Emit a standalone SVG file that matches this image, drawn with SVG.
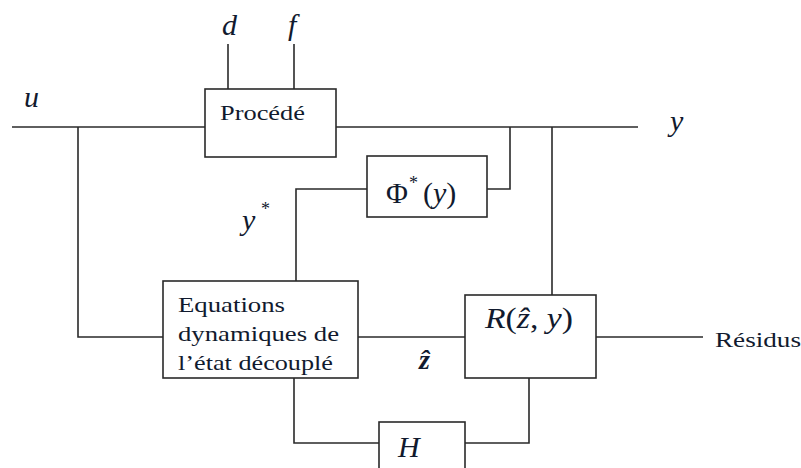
<svg xmlns="http://www.w3.org/2000/svg" width="801" height="468" viewBox="0 0 801 468">
<style>
.box{fill:#fff;stroke:#2a2a2a;stroke-width:1.6}
.ln{fill:none;stroke:#2a2a2a;stroke-width:1.6}
text{fill:#111a2e}
.m{font-style:italic}
</style>
<rect width="801" height="468" fill="#fff"/>
<g id="connectors">
<path class="ln" d="M12,127 H205"/>
<path class="ln" d="M336,127 H638"/>
<path class="ln" d="M228,44 V89"/>
<path class="ln" d="M294,44 V89"/>
<path class="ln" d="M78,127 V337 H163"/>
<path class="ln" d="M487,189 H510 V127"/>
<path class="ln" d="M367,189 H296 V281"/>
<path class="ln" d="M552,127 V295"/>
<path class="ln" d="M358,337 H465"/>
<path class="ln" d="M596,337 H703"/>
<path class="ln" d="M294,378 V443 H379"/>
<path class="ln" d="M465,443 H529 V378"/>
</g>
<g font-family="Times New Roman, Liberation Serif, Times, DejaVu Serif, Noto Serif, serif">
<g id="labels">
<text class="m" x="24" y="107" font-size="30">u</text>
<text class="m" x="222" y="35" font-size="30">d</text>
<text class="m" x="288" y="35" font-size="30">f</text>
<text class="m" x="670" y="131" font-size="30">y</text>
<text class="m" x="242" y="230" font-size="30">y</text>
<text x="261" y="215" font-size="18">*</text>
<text class="m" x="419" y="369" font-size="28" font-weight="bold">ẑ</text>
<text x="715" y="347" font-size="22" textLength="86" lengthAdjust="spacingAndGlyphs">Résidus</text>
</g>
<g id="procede">
<rect class="box" x="205" y="89" width="131" height="68"/>
<text x="220" y="120" font-size="22" textLength="85" lengthAdjust="spacingAndGlyphs">Procédé</text>
</g>
<g id="phi">
<rect class="box" x="367" y="156" width="120" height="61"/>
<text x="386" y="203" font-size="30">Φ</text>
<text x="409" y="189" font-size="18">*</text>
<text x="423" y="203" font-size="30">(<tspan font-style="italic">y</tspan>)</text>
</g>
<g id="equations">
<rect class="box" x="163" y="281" width="195" height="97"/>
<text x="178" y="312" font-size="22" textLength="107" lengthAdjust="spacingAndGlyphs">Equations</text>
<text x="178" y="341" font-size="22" textLength="161" lengthAdjust="spacingAndGlyphs">dynamiques de</text>
<text x="178" y="370" font-size="22" textLength="155" lengthAdjust="spacingAndGlyphs">l’état découplé</text>
</g>
<g id="residu">
<rect class="box" x="465" y="295" width="131" height="83"/>
<text class="m" x="485" y="328" font-size="30" textLength="88" lengthAdjust="spacingAndGlyphs">R<tspan font-style="normal">(</tspan>ẑ<tspan font-style="normal">,</tspan> y<tspan font-style="normal">)</tspan></text>
</g>
<g id="h">
<rect class="box" x="379" y="422" width="86" height="60"/>
<text class="m" x="398" y="457" font-size="30">H</text>
</g>
</g>
</svg>
